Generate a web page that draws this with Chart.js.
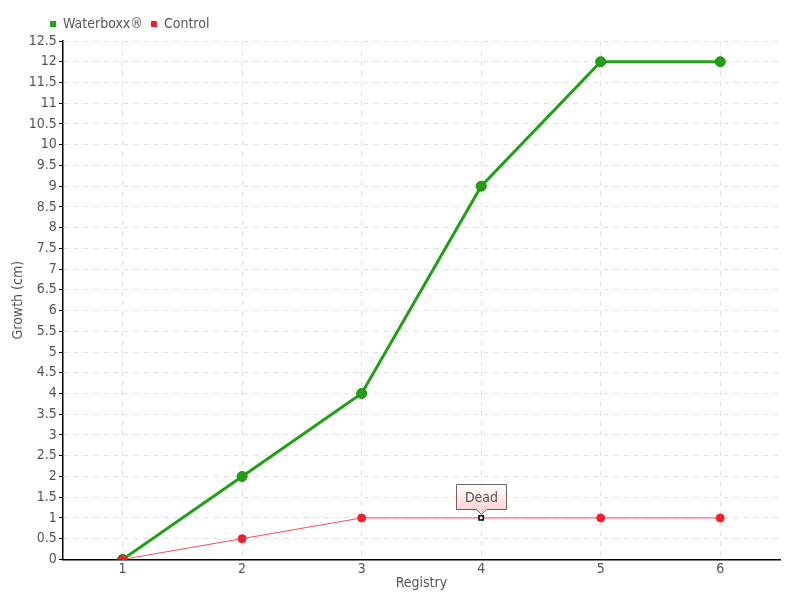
<!DOCTYPE html>
<html>
<head>
<meta charset="utf-8">
<script src="https://cdn.jsdelivr.net/npm/chart.js@4"></script>
<style>
  body { margin: 0; background: #fff; }
  #wrap { width: 800px; height: 600px; }
</style>
</head>
<body>
<div id="wrap"><canvas id="chart"></canvas></div>
<script>
// data
const registry = ['1', '2', '3', '4', '5', '6'];
const waterboxx = [0, 2, 4, 9, 12, 12];
const control = [0, 0.5, 1, 1, 1, 1];
const deadIndex = 3;
const deadLabel = 'Dead';

const green = '#22a015';
const red = '#f0202e';
const textColor = '#555';
const font = "'DejaVu Sans Condensed', 'Liberation Sans Narrow', sans-serif";

// draws the little "Dead" callout over the control point
const deadCallout = {
    id: 'deadCallout',
    afterDatasetsDraw(chart) {
        const pt = chart.getDatasetMeta(1).data[deadIndex];
        if (!pt) return;
        const ctx = chart.ctx;
        const x = Math.round(pt.x) + 0.5, y = Math.round(pt.y) + 0.5;
        const w = 50, h = 25;
        const top = y - 34, left = x - w / 2;
        ctx.save();
        const grad = ctx.createLinearGradient(0, top, 0, top + h);
        grad.addColorStop(0, '#ffffff');
        grad.addColorStop(1, '#fdd5d5');
        ctx.beginPath();
        ctx.moveTo(left, top);
        ctx.lineTo(left + w, top);
        ctx.lineTo(left + w, top + h);
        ctx.lineTo(x + 5, top + h);
        ctx.lineTo(x, top + h + 5);
        ctx.lineTo(x - 5, top + h);
        ctx.lineTo(left, top + h);
        ctx.closePath();
        ctx.fillStyle = grad;
        ctx.fill();
        ctx.strokeStyle = '#666';
        ctx.lineWidth = 1;
        ctx.stroke();
        ctx.fillStyle = textColor;
        ctx.font = '14px ' + font;
        ctx.textAlign = 'center';
        ctx.textBaseline = 'middle';
        ctx.fillText(deadLabel, x, top + h / 2 + 1);
        ctx.restore();
    }
};

// nudges the legend right, like in the reference
const legendShift = {
    id: 'legendShift',
    afterLayout(chart) {
        chart.legend.left += 32;
    }
};

new Chart(document.getElementById('chart'), {
    type: 'line',
    data: {
        labels: registry,
        datasets: [{
            label: 'Waterboxx®',
            data: waterboxx,
            borderColor: green,
            backgroundColor: green,
            borderWidth: 3,
            pointRadius: 5,
            pointBorderColor: '#1c8a10',
            pointBorderWidth: 1,
            tension: 0,
            order: 1
        }, {
            label: 'Control',
            data: control,
            borderColor: '#f5505a',
            backgroundColor: red,
            borderWidth: 1,
            pointRadius: control.map((v, i) => i === deadIndex ? 3 : 4),
            pointStyle: control.map((v, i) => i === deadIndex ? 'rect' : 'circle'),
            pointBackgroundColor: control.map((v, i) => i === deadIndex ? '#fff' : red),
            pointBorderColor: control.map((v, i) => i === deadIndex ? '#000' : red),
            pointBorderWidth: control.map((v, i) => i === deadIndex ? 1.5 : 1),
            tension: 0,
            order: 0
        }]
    },
    options: {
        responsive: true,
        maintainAspectRatio: false,
        animation: false,
        layout: { padding: { left: 10, right: 20, top: 9, bottom: 8 } },
        plugins: {
            legend: {
                position: 'top',
                align: 'start',
                labels: {
                    boxWidth: 6,
                    boxHeight: 6,
                    padding: 8,
                    color: textColor,
                    font: { family: font, size: 14 },
                    sort: (a, b) => a.datasetIndex - b.datasetIndex,
                    generateLabels(chart) {
                        return Chart.defaults.plugins.legend.labels.generateLabels(chart)
                            .map(item => Object.assign(item, { lineWidth: 0 }));
                    }
                }
            },
            tooltip: { enabled: false }
        },
        scales: {
            x: {
                offset: true,
                title: { display: true, text: 'Registry', color: textColor, font: { family: font, size: 14 }, padding: { top: -5, bottom: 0 } },
                grid: {
                    offset: false,
                    color: '#e0e0e0',
                    drawTicks: false
                },
                border: { color: '#000', width: 1.5, dash: [5, 5] },
                ticks: { color: textColor, font: { family: font, size: 14 }, padding: 2 }
            },
            y: {
                min: 0,
                max: 12.5,
                title: { display: true, text: 'Growth (cm)', color: textColor, font: { family: font, size: 14 }, padding: 0 },
                grid: {
                    color: '#e0e0e0',
                    tickColor: '#000',
                    tickLength: 4,
                    tickBorderDash: []
                },
                border: { color: '#000', width: 1.5, dash: [5, 5] },
                ticks: {
                    stepSize: 0.5,
                    autoSkip: false,
                    color: textColor,
                    font: { family: font, size: 14 },
                    padding: 2,
                    callback: v => String(v)
                }
            }
        }
    },
    plugins: [deadCallout, legendShift]
});
</script>
</body>
</html>
